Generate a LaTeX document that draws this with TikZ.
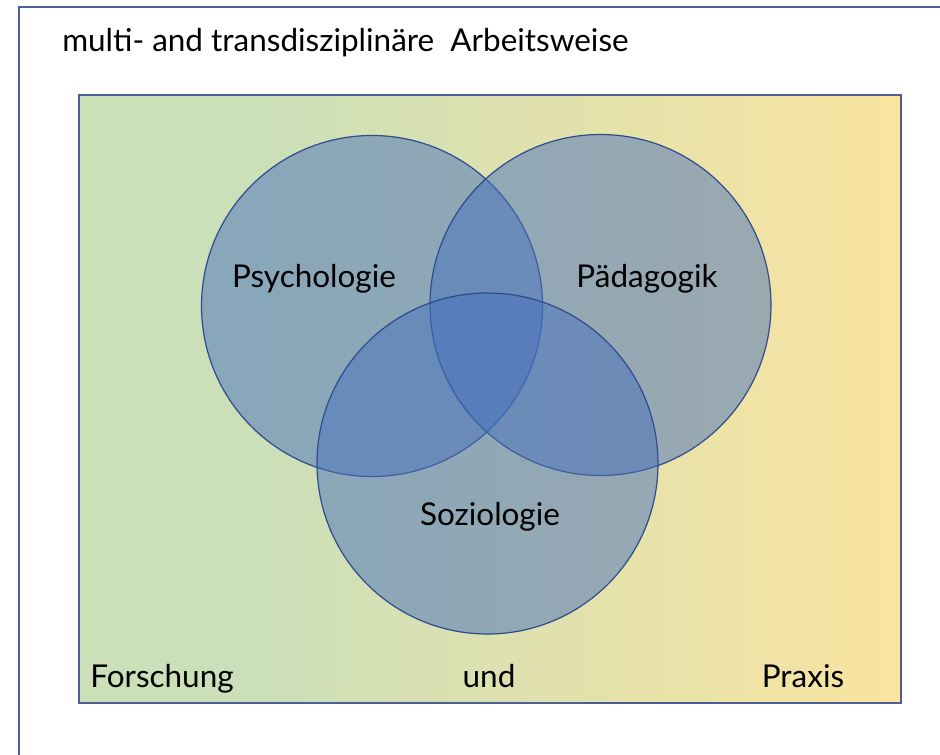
\documentclass[tikz,border=0pt]{standalone}
\usepackage{fontspec}
\setmainfont{Lato}
\definecolor{grn}{RGB}{203,223,184}
\definecolor{yel}{RGB}{250,228,160}
\definecolor{frame}{RGB}{74,95,150}
\definecolor{circfill}{RGB}{70,112,188}
\definecolor{circline}{RGB}{47,75,143}
\pgfdeclarehorizontalshading{gy}{100bp}{color(0bp)=(grn); color(25bp)=(grn); color(36bp)=(grn); color(75bp)=(yel); color(100bp)=(yel)}
\begin{document}
\begin{tikzpicture}[x=0.75pt,y=-0.75pt,
  circ/.style={fill=circfill, fill opacity=0.5, draw=circline, line width=0.9pt},
  lbl/.style={font=\fontsize{23.6}{28}\selectfont, text=black, inner sep=0pt}]
\useasboundingbox (0,0) rectangle (940,755);
\draw[frame, line width=1.2pt] (19,7) rectangle (1000,800);
\node[lbl, anchor=base west] (title) at (62,52) {multi- and transdisziplinäre\ \ Arbeitsweise};
\path[shading=gy, draw=frame, line width=1pt] (79,95) rectangle (901,703);
\path[circ] (372,306) circle[radius=170.5];
\path[circ] (600.5,305) circle[radius=170.5];
\path[circ] (487.5,463.5) circle[radius=170.5];
\node[lbl, anchor=base] (psy) at (314,288) {Psychologie};
\node[lbl, anchor=base] (paed) at (647,288) {Pädagogik};
\node[lbl, anchor=base] (soz) at (490,526) {Soziologie};
\node[lbl, anchor=base] (fo) at (162,687) {Forschung};
\node[lbl, anchor=base] (und) at (489,687) {und};
\node[lbl, anchor=base] (pr) at (803,687) {Praxis};
\end{tikzpicture}
\end{document}
